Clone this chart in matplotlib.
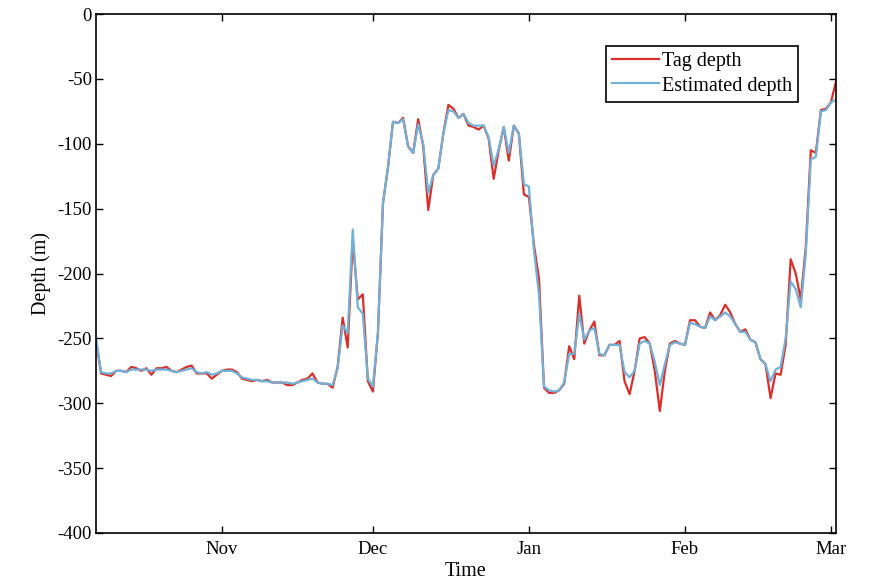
import matplotlib
matplotlib.use("Agg")
import matplotlib.pyplot as plt
import matplotlib.dates as mdates
import pandas as pd

plt.rcParams['font.family'] = ['Liberation Serif', 'DejaVu Serif']
plt.rcParams['axes.unicode_minus'] = False

# daily samples starting 7 Oct 2011
start = "2011-10-07"
tag_depth = [-252, -277, -278, -279, -275, -275, -276, -272, -273, -275,
             -273, -278, -273, -273, -272, -275, -276, -274, -272, -271,
             -277, -277, -277, -281, -278, -275, -274, -274, -276, -281,
             -282, -283, -282, -283, -282, -284, -284, -284, -286, -286,
             -284, -282, -281, -277, -284, -285, -285, -288, -272, -234,
             -257, -174, -220, -216, -283, -291, -246, -146, -118, -83,
             -84, -80, -102, -107, -81, -102, -151, -124, -119, -92,
             -70, -73, -80, -77, -86, -87, -89, -86, -96, -127,
             -105, -87, -113, -86, -92, -139, -141, -178, -204, -288,
             -292, -292, -290, -285, -256, -266, -217, -254, -244, -237,
             -263, -263, -255, -255, -252, -283, -293, -275, -250, -249,
             -254, -275, -306, -275, -254, -252, -254, -255, -236, -236,
             -241, -242, -230, -236, -232, -224, -230, -239, -245, -243,
             -251, -253, -266, -270, -296, -277, -278, -255, -189, -200,
             -220, -180, -105, -107, -74, -73, -68, -52]
est_depth = [-250, -276, -277, -277, -275, -275, -276, -274, -274, -274,
             -274, -275, -274, -274, -274, -275, -276, -275, -274, -273,
             -276, -277, -276, -278, -277, -275, -275, -275, -277, -280,
             -281, -282, -282, -283, -283, -284, -284, -284, -284, -285,
             -284, -283, -282, -281, -284, -285, -285, -286, -273, -240,
             -246, -166, -226, -231, -281, -287, -246, -146, -118, -83,
             -84, -81, -102, -107, -85, -100, -138, -124, -119, -92,
             -74, -75, -80, -77, -84, -86, -86, -86, -95, -117,
             -104, -87, -107, -86, -92, -131, -133, -182, -216, -287,
             -290, -291, -290, -284, -262, -262, -231, -251, -244, -242,
             -262, -263, -255, -255, -255, -276, -280, -275, -254, -252,
             -254, -268, -286, -270, -255, -253, -254, -255, -238, -239,
             -241, -242, -233, -236, -233, -230, -233, -239, -245, -245,
             -251, -253, -266, -270, -283, -274, -272, -250, -206, -212,
             -226, -185, -112, -110, -75, -74, -68, -66]

dates = pd.date_range(start, periods=len(tag_depth), freq="D")

fig = plt.figure(figsize=(8.69, 5.87), dpi=100)
ax = fig.add_axes([0.1105, 0.092, 0.8515, 0.884])

ax.plot(dates, tag_depth, color='#d7302c', lw=1.6, label='Tag depth')
ax.plot(dates, est_depth, color='#72b1d7', lw=1.6, label='Estimated depth')

ax.set_xlim(pd.Timestamp(start), pd.Timestamp(start) + pd.Timedelta(days=147))
ax.set_ylim(-400, 0)
ax.set_yticks(range(-400, 1, 50))
ax.xaxis.set_major_locator(mdates.MonthLocator())
ax.xaxis.set_major_formatter(mdates.DateFormatter('%b'))

ax.tick_params(direction='in', length=5, width=1, labelsize=13.5,
               top=True, right=True)
ax.tick_params(axis='x', pad=6)
ax.tick_params(axis='y', pad=3)
for s in ax.spines.values():
    s.set_linewidth(1.2)

ax.set_xlabel('Time', fontsize=14.5, labelpad=3)
ax.set_ylabel('Depth (m)', fontsize=14.5, labelpad=5)

leg = ax.legend(loc='upper right', bbox_to_anchor=(0.9486, 0.938), fontsize=14.5,
                fancybox=False, framealpha=1, edgecolor='black',
                borderpad=0.3, labelspacing=0.25, handlelength=2.3,
                handletextpad=0.15, borderaxespad=0)
leg.get_frame().set_linewidth(1.2)

fig.savefig('out.png', dpi=100)
